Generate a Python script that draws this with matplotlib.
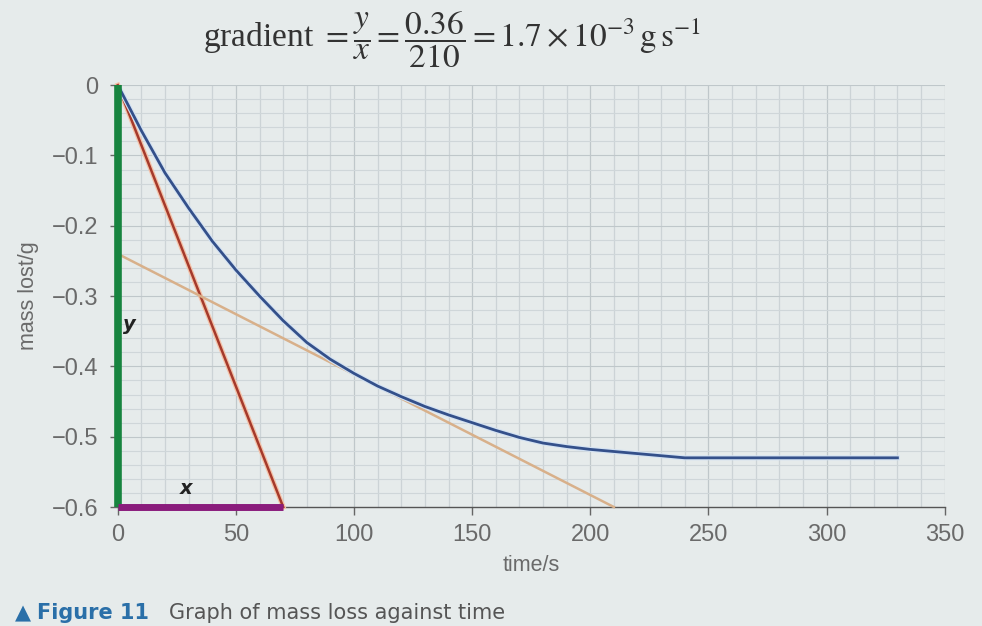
import matplotlib
matplotlib.use("Agg")
import matplotlib.pyplot as plt
import matplotlib.patheffects as pe
import numpy as np

# Data
time_s = [0, 10, 20, 30, 40, 50, 60, 70, 80, 90, 100, 110, 120, 130, 140, 150, 160, 170,
          180, 190, 200, 210, 220, 230, 240, 330]
mass_lost = [0, -0.065, -0.125, -0.175, -0.222, -0.263, -0.300, -0.335, -0.366, -0.390,
             -0.410, -0.428, -0.443, -0.457, -0.469, -0.480, -0.491, -0.501, -0.509,
             -0.514, -0.518, -0.521, -0.524, -0.527, -0.530, -0.530]
initial_tangent_x = [0, 70]
initial_tangent_y = [0, -0.6]
tangent_x = [0, 210]
tangent_y = [-0.24, -0.6]
y_bar_x = [0, 0]
y_bar_y = [0, -0.6]
x_bar_x = [0, 70]
x_bar_y = [-0.6, -0.6]
xticks = [0, 50, 100, 150, 200, 250, 300, 350]
yticks = [0, -0.1, -0.2, -0.3, -0.4, -0.5, -0.6]
ytick_labels = ["0", "\u22120.1", "\u22120.2", "\u22120.3", "\u22120.4", "\u22120.5", "\u22120.6"]

bg = "#e6ebeb"
plt.rcParams["mathtext.fontset"] = "stix"

fig = plt.figure(figsize=(9.82, 6.26), dpi=100, facecolor=bg)
ax = fig.add_axes([0.120, 0.190, 0.842, 0.674], facecolor=bg)
ax.set_xlim(0, 350)
ax.set_ylim(-0.6, 0)

# graph-paper grid
for xv in np.arange(10, 351, 10):
    major = (round(xv) % 50 == 0)
    ax.axvline(xv, color="#bfc7ca" if major else "#ccd3d6", lw=0.9, zorder=0)
for yv in np.arange(-0.58, 0.001, 0.02):
    major = abs(round(yv * 10) - yv * 10) < 1e-6
    ax.axhline(yv, color="#bfc7ca" if major else "#cfd6d9", lw=0.8, zorder=0)

# curve
ax.plot(time_s, mass_lost, color="#34508a", lw=2.0, zorder=4,
        path_effects=[pe.Stroke(linewidth=3.6, foreground="#d3e2f3"), pe.Normal()])
# initial tangent
ax.plot(initial_tangent_x, initial_tangent_y, color="#a53a2c", lw=1.8, zorder=3, clip_on=False,
        path_effects=[pe.Stroke(linewidth=3.6, foreground="#f4c2a8"), pe.Normal()])
# tangent at 100 s
ax.plot(tangent_x, tangent_y, color="#d8b08a", lw=1.8, zorder=3, clip_on=False)

# y and x bars
ax.plot(y_bar_x, y_bar_y, color="#17843f", lw=5.5, solid_capstyle="butt", zorder=5, clip_on=False)
ax.plot(x_bar_x, x_bar_y, color="#8a1c7c", lw=5.0, solid_capstyle="butt", zorder=6, clip_on=False)

ax.text(5, -0.341, "y", fontsize=14, fontweight="bold", style="italic",
        family="DejaVu Sans", color="#222222", ha="center", va="center", zorder=7)
ax.text(29, -0.573, "x", fontsize=14, fontweight="bold", style="italic",
        family="DejaVu Sans", color="#222222", ha="center", va="center", zorder=7)

# axes styling
for s in ["top", "right", "left"]:
    ax.spines[s].set_visible(False)
ax.spines["bottom"].set_color("#555555")
ax.spines["bottom"].set_linewidth(1.0)
ax.set_xticks(xticks)
ax.set_yticks(yticks)
ax.set_yticklabels(ytick_labels)
ax.tick_params(axis="both", direction="out", length=6, width=1, color="#666666",
               labelsize=17, labelcolor="#6a6a6a")
ax.tick_params(axis="x", pad=6)
ax.tick_params(axis="y", pad=8)
for lab in ax.get_xticklabels() + ax.get_yticklabels():
    lab.set_family("Liberation Sans")
ax.set_xlabel("time/s", fontsize=15.5, color="#6a6a6a", labelpad=7, family="Liberation Sans")
ax.set_ylabel("mass lost/g", fontsize=15.5, color="#6a6a6a", labelpad=9, family="Liberation Sans")

fig.text(0.46, 0.937,
         r"gradient $= \dfrac{y}{x} = \dfrac{0.36}{210} = 1.7 \times 10^{-3}\,\mathrm{g\,s^{-1}}$",
         fontsize=24, family="Liberation Serif", color="#333333", ha="center", va="center")

fig.text(0.015, 0.004, "\u25b2 ", fontsize=15, color="#2a6fa8", ha="left", va="bottom")
fig.text(0.038, 0.004, "Figure 11", fontsize=15, color="#2a6fa8", fontweight="bold",
         ha="left", va="bottom")
fig.text(0.172, 0.004, "Graph of mass loss against time", fontsize=15, color="#555555",
         ha="left", va="bottom")

fig.savefig("out.png", dpi=100, facecolor=bg)
